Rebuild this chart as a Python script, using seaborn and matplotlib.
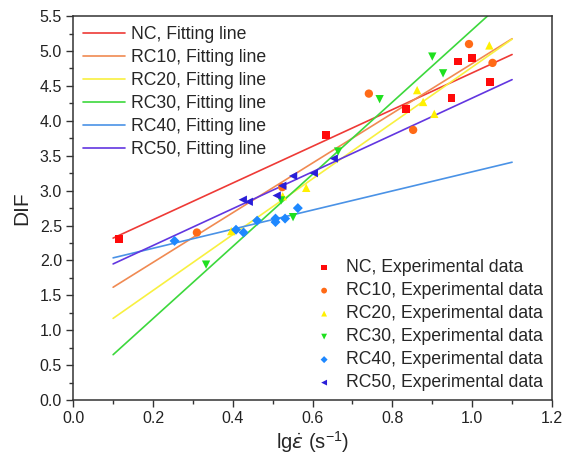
import numpy as np
import pandas as pd
import matplotlib
matplotlib.use("Agg")
import matplotlib.pyplot as plt
import seaborn as sns
from matplotlib.ticker import MultipleLocator

sns.set_theme(style="ticks")
plt.rcParams['font.family'] = ['Liberation Sans', 'DejaVu Sans']
plt.rcParams['mathtext.fontset'] = 'custom'
plt.rcParams['mathtext.rm'] = 'Liberation Sans'
plt.rcParams['mathtext.it'] = 'DejaVu Sans:italic'

# ---- data ----
series = ["NC", "RC10", "RC20", "RC30", "RC40", "RC50"]

nc_x = [0.115, 0.634, 0.834, 0.948, 0.965, 1.000, 1.044]
nc_y = [2.31, 3.80, 4.17, 4.33, 4.85, 4.90, 4.56]

rc10_x = [0.310, 0.524, 0.741, 0.852, 0.992, 1.051]
rc10_y = [2.40, 3.05, 4.39, 3.87, 5.10, 4.83]

rc20_x = [0.396, 0.525, 0.584, 0.862, 0.877, 0.905, 1.043]
rc20_y = [2.42, 2.92, 3.04, 4.44, 4.27, 4.10, 5.08]

rc30_x = [0.333, 0.521, 0.551, 0.664, 0.768, 0.900, 0.927]
rc30_y = [1.94, 2.86, 2.62, 3.56, 4.31, 4.92, 4.68]

rc40_x = [0.254, 0.408, 0.427, 0.461, 0.507, 0.507, 0.531, 0.563]
rc40_y = [2.28, 2.44, 2.40, 2.57, 2.60, 2.55, 2.60, 2.75]

rc50_x = [0.425, 0.440, 0.510, 0.524, 0.551, 0.603, 0.653]
rc50_y = [2.87, 2.84, 2.93, 3.07, 3.21, 3.25, 3.46]

# fitting lines: intercept and slope
fit_intercept = [2.057, 1.26, 0.77, 0.133, 1.90, 1.686]
fit_slope = [2.63, 3.56, 4.00, 5.17, 1.37, 2.64]
fit_xmin = 0.10
fit_xmax = 1.10

xs_all = [nc_x, rc10_x, rc20_x, rc30_x, rc40_x, rc50_x]
ys_all = [nc_y, rc10_y, rc20_y, rc30_y, rc40_y, rc50_y]

point_colors = ["#FF0A0A", "#FF6A16", "#FFF000", "#1EE01E", "#1E88FF", "#2A1ED8"]
line_colors = ["#EE3A36", "#F08A52", "#F8F040", "#3CD83C", "#4A92E6", "#6236E0"]
markers = ["s", "o", "^", "v", "D", "<"]
msizes = [30, 36, 36, 36, 26, 36]

fig, ax = plt.subplots(figsize=(5.72, 4.74), dpi=100)
fig.subplots_adjust(left=0.128, right=0.965, top=0.966, bottom=0.156)

for i, name in enumerate(series):
    lx = np.array([fit_xmin, fit_xmax])
    ly = fit_intercept[i] + fit_slope[i] * lx
    ldf = pd.DataFrame({"x": lx, "y": ly})
    sns.lineplot(data=ldf, x="x", y="y", ax=ax, color=line_colors[i], lw=1.2,
                 label=f"{name}, Fitting line")

for i, name in enumerate(series):
    pdf = pd.DataFrame({"x": xs_all[i], "y": ys_all[i]})
    sns.scatterplot(data=pdf, x="x", y="y", ax=ax, color=point_colors[i],
                    marker=markers[i], s=msizes[i], edgecolor="none",
                    label=f"{name}, Experimental data", zorder=3)

handles, labels = ax.get_legend_handles_labels()
lh = [h for h, l in zip(handles, labels) if "Fitting" in l]
ll = [l for l in labels if "Fitting" in l]
ph = [h for h, l in zip(handles, labels) if "Experimental" in l]
pl = [l for l in labels if "Experimental" in l]

leg1 = ax.legend(lh, ll, loc="upper left", frameon=False, fontsize=12.7,
                 handlelength=2.4, handletextpad=0.3, labelspacing=0.34,
                 borderaxespad=0.1, borderpad=0.45)
ax.add_artist(leg1)
ax.legend(ph, pl, loc="lower right", frameon=False, fontsize=12.7,
          handlelength=1.0, handletextpad=0.75, labelspacing=0.34,
          borderaxespad=0.15, borderpad=0.35, markerscale=0.7)

ax.set_xlim(0, 1.2)
ax.set_ylim(0, 5.5)
ax.xaxis.set_major_locator(MultipleLocator(0.2))
ax.xaxis.set_minor_locator(MultipleLocator(0.1))
ax.yaxis.set_major_locator(MultipleLocator(0.5))
ax.yaxis.set_minor_locator(MultipleLocator(0.25))
ax.tick_params(axis="both", which="major", direction="out", length=5, width=1,
               labelsize=11.5, color="#333333", labelcolor="#222222", pad=3)
ax.tick_params(axis="both", which="minor", direction="out", length=3, width=1,
               color="#333333")
for sp in ax.spines.values():
    sp.set_linewidth(1.1)
    sp.set_color("#333333")

ax.set_xlabel(r"lg$\dot{\varepsilon}$ (s$^{-1}$)", fontsize=14.5, labelpad=2)
ax.set_ylabel("DIF", fontsize=15, labelpad=6)

fig.savefig("out.png", dpi=100)
